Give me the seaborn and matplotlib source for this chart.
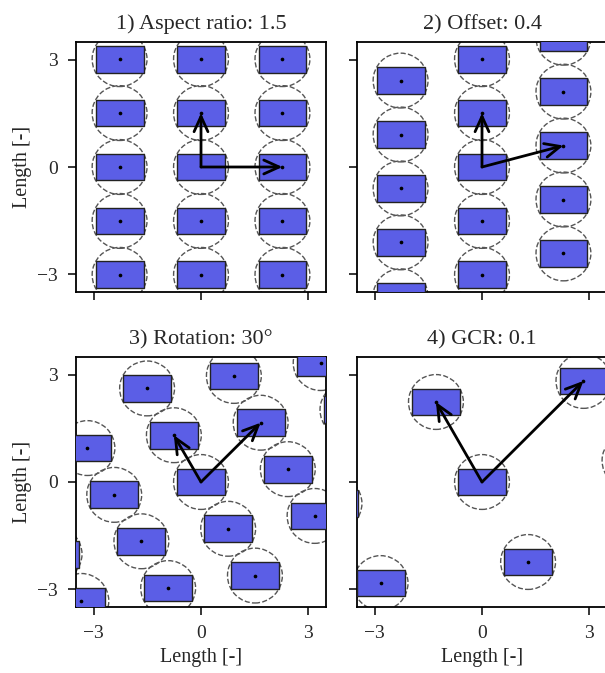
import matplotlib
matplotlib.use("Agg")
import matplotlib.pyplot as plt
import seaborn as sns
import numpy as np
from matplotlib.patches import Rectangle, Circle

# collector centres (reference collector at the origin)
titles = ["1) Aspect ratio: 1.5", "2) Offset: 0.4", "3) Rotation: 30°", "4) GCR: 0.1"]

centers_1 = [(-2.28, -3.02), (-2.28, -1.51), (-2.28, 0.0), (-2.28, 1.51), (-2.28, 3.02),
             (0.0, -3.02), (0.0, -1.51), (0.0, 1.51), (0.0, 3.02),
             (2.28, -3.02), (2.28, -1.51), (2.28, 0.0), (2.28, 1.51), (2.28, 3.02)]
centers_2 = [(-2.28, -3.62), (-2.28, -2.11), (-2.28, -0.60), (-2.28, 0.91), (-2.28, 2.42),
             (0.0, -3.02), (0.0, -1.51), (0.0, 1.51), (0.0, 3.02),
             (2.28, -2.42), (2.28, -0.91), (2.28, 0.60), (2.28, 2.11), (2.28, 3.62)]
centers_3 = [(-0.76, 1.31), (0.76, -1.31), (-1.51, 2.62), (1.51, -2.62),
             (3.18, -0.95), (2.43, 0.36), (1.67, 1.66), (0.92, 2.97),
             (4.10, 2.02), (3.35, 3.33),
             (-0.92, -2.97), (-1.67, -1.66), (-2.43, -0.36), (-3.18, 0.95),
             (-3.35, -3.33), (-4.10, -2.02)]
centers_4 = [(2.84, 2.83), (-2.84, -2.83), (-1.29, 2.24), (1.29, -2.24),
             (4.13, 0.60), (-4.13, -0.60)]

arrows_1 = [(0.0, 1.51), (2.28, 0.0)]
arrows_2 = [(0.0, 1.51), (2.28, 0.60)]
arrows_3 = [(-0.76, 1.31), (1.67, 1.66)]
arrows_4 = [(-1.29, 2.24), (2.84, 2.83)]

ticks = [-3, 0, 3]

# collector size
coll_w = 1.34
coll_h = 0.75
radius = np.hypot(coll_w / 2, coll_h / 2)

sns.set_style("ticks")
plt.rcParams['font.family'] = ['Liberation Serif', 'DejaVu Serif']

fig = plt.figure(figsize=(6.05, 6.73), dpi=100)
W, H = 605.0, 673.0
boxes = [(76, 292), (357, 292), (76, 607), (357, 607)]

panels = [(centers_1, arrows_1), (centers_2, arrows_2),
          (centers_3, arrows_3), (centers_4, arrows_4)]

for k, ((centers, arrows), (left, bottom)) in enumerate(zip(panels, boxes)):
    ax = fig.add_axes([left / W, (H - bottom) / H, 250 / W, 250 / H])
    allc = [(0.0, 0.0)] + centers
    for (cx, cy) in allc:
        ax.add_patch(Circle((cx, cy), radius, fill=False, ls='--', lw=1,
                            ec='#555555', zorder=2))
        ax.add_patch(Rectangle((cx - coll_w / 2, cy - coll_h / 2), coll_w, coll_h,
                               fc='#5b5ee6', ec='#222222', lw=1, zorder=3))
    xs = [c[0] for c in centers]
    ys = [c[1] for c in centers]
    sns.scatterplot(x=xs, y=ys, ax=ax, color='black', s=7, linewidth=0, zorder=4)
    for (ux, uy) in arrows:
        ax.annotate("", xy=(ux, uy), xytext=(0, 0),
                    arrowprops=dict(arrowstyle='->,head_length=1.1,head_width=0.5',
                                    mutation_scale=10, lw=2.0, color='black',
                                    shrinkA=0, shrinkB=0), zorder=5)
    ax.set_xlim(-3.5, 3.5)
    ax.set_ylim(-3.5, 3.5)
    ax.set_aspect('equal')
    ax.set_xticks(ticks)
    ax.set_yticks(ticks)
    ax.tick_params(direction='out', length=6, width=1.3, pad=7, labelsize=14)
    for sp in ax.spines.values():
        sp.set_linewidth(1.3)
        sp.set_color('black')
    ax.set_title(titles[k], fontsize=16, pad=9)
    if k % 2 == 0:
        ax.set_ylabel("Length [-]", fontsize=14.5)
    else:
        ax.tick_params(labelleft=False)
    if k >= 2:
        ax.set_xlabel("Length [-]", fontsize=14.5)
    else:
        ax.tick_params(labelbottom=False)

fig.savefig("out.png", dpi=100)
